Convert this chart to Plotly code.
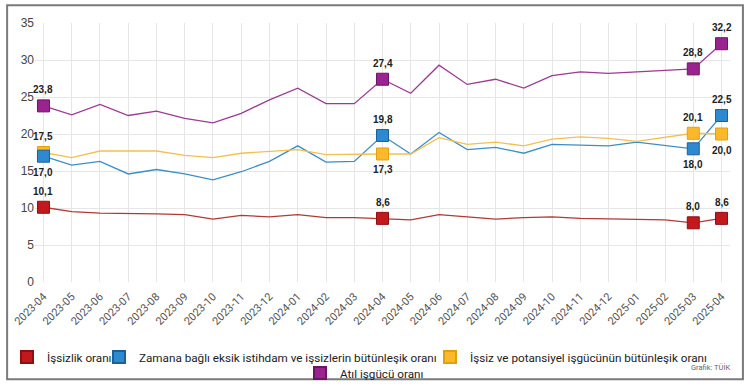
import plotly.graph_objects as go

months = ["2023-04", "2023-05", "2023-06", "2023-07", "2023-08", "2023-09", "2023-10",
          "2023-11", "2023-12", "2024-01", "2024-02", "2024-03", "2024-04", "2024-05",
          "2024-06", "2024-07", "2024-08", "2024-09", "2024-10", "2024-11", "2024-12",
          "2025-01", "2025-02", "2025-03", "2025-04"]

issizlik = [10.1, 9.5, 9.3, 9.3, 9.2, 9.1, 8.5, 9.0, 8.8, 9.1, 8.7, 8.7, 8.6, 8.4,
            9.1, 8.8, 8.5, 8.7, 8.8, 8.6, 8.5, 8.5, 8.4, 8.0, 8.6]
zamana = [17.0, 15.8, 16.3, 14.6, 15.2, 14.6, 13.8, 14.9, 16.3, 18.4, 16.2, 16.3, 19.8, 17.3,
          20.2, 17.9, 18.2, 17.4, 18.6, 18.5, 18.4, 18.9, 18.4, 18.0, 22.5]
potansiyel = [17.5, 16.8, 17.7, 17.7, 17.7, 17.1, 16.8, 17.4, 17.7, 17.9, 17.2, 17.3, 17.3, 17.3,
              19.5, 18.6, 18.9, 18.4, 19.3, 19.6, 19.4, 19.0, 19.5, 20.1, 20.0]
atil = [23.8, 22.6, 24.0, 22.5, 23.1, 22.1, 21.5, 22.8, 24.6, 26.2, 24.1, 24.1, 27.4, 25.5,
        29.3, 26.7, 27.4, 26.2, 27.9, 28.4, 28.2, 28.4, 28.6, 28.8, 32.2]

names = ["İşsizlik oranı",
         "Zamana bağlı eksik istihdam ve işsizlerin bütünleşik oranı",
         "İşsiz ve potansiyel işgücünün bütünleşik oranı",
         "Atıl işgücü oranı"]
highlight = ["2023-04", "2024-04", "2025-03", "2025-04"]
y_ticks = [0, 5, 10, 15, 20, 25, 30, 35]

# styles
series = [issizlik, zamana, potansiyel, atil]
line_colors = ["#B03A36", "#3D8EC6", "#F2C050", "#9C3A94"]
fill_colors = ["#C1191C", "#2E8AD0", "#FBB829", "#9A2390"]
edge_colors = ["#8E0F12", "#1F5F99", "#E0A010", "#6A1763"]
# labels placed below the marker: (series index, month)
below = {(1, "2023-04"), (2, "2024-04"), (1, "2025-03"), (2, "2025-04")}
legend_ids = ["legend", "legend2", "legend3", "legend4"]
legend_left_px = [7, 99, 430, 300]
legend_row_px = [357, 357, 357, 373]
draw_order = [0, 2, 1, 3]

fig = go.Figure()

for i in range(4):
    fig.add_trace(go.Scatter(
        x=months, y=series[i], mode="lines", name=names[i], showlegend=False,
        line=dict(color=line_colors[i], width=1.3), hoverinfo="skip"))

for i in draw_order:
    idx = [months.index(m) for m in highlight]
    fig.add_trace(go.Scatter(
        x=highlight, y=[series[i][k] for k in idx], mode="markers", name=names[i],
        legend=legend_ids[i],
        marker=dict(symbol="square", size=12, color=fill_colors[i],
                    line=dict(color=edge_colors[i], width=1))))

annotations = []
for i in range(4):
    for m in highlight:
        v = series[i][months.index(m)]
        shift = -16 if (i, m) in below else 16
        annotations.append(dict(
            x=m, y=v, xref="x", yref="y", text=f"{v:.1f}".replace(".", ","),
            showarrow=False, yshift=shift,
            font=dict(family="Liberation Sans, Arial", size=10, color="#222222", weight="bold")))

annotations.append(dict(
    xref="paper", yref="paper", x=1.003, y=-0.329, xanchor="right", yanchor="middle",
    text="Grafik: TÜİK", showarrow=False,
    font=dict(family="Roboto", size=7.5, color="#666666")))

legend_common = dict(orientation="h", xref="container", yref="container",
                     xanchor="left", yanchor="middle", itemsizing="constant",
                     bgcolor="rgba(0,0,0,0)",
                     font=dict(family="Roboto", size=11.7, color="#222222"))
legends = {}
for i, lid in enumerate(legend_ids):
    legends[lid] = dict(legend_common, x=legend_left_px[i] / 750, y=1 - legend_row_px[i] / 390)

fig.update_layout(
    width=750, height=390,
    margin=dict(l=32, r=20, t=23, b=108),
    paper_bgcolor="white", plot_bgcolor="white",
    xaxis=dict(type="category", categoryorder="array", categoryarray=months,
               range=[-0.3, 24.3], tickangle=-45, showgrid=True, ticklabelstandoff=5,
               gridcolor="#E6E6E6", gridwidth=1, showline=False, zeroline=False,
               tickfont=dict(family="Roboto", size=11, color="#555555")),
    yaxis=dict(range=[0, 35], tickvals=y_ticks, showgrid=True, gridcolor="#E6E6E6",
               gridwidth=1, zeroline=False, showline=False,
               tickfont=dict(family="Liberation Sans, Arial", size=12, color="#444444")),
    annotations=annotations,
    shapes=[dict(type="rect", xref="paper", yref="paper",
                 x0=-0.0401, x1=1.0186, y0=-0.3757, y1=1.0683,
                 line=dict(color="#7A7A7A", width=2), fillcolor="rgba(0,0,0,0)",
                 layer="below")],
    showlegend=True,
    **legends,
)

fig.write_html("out.html",
               config={"displayModeBar": False},
               post_script="document.body.style.margin='0px';document.body.style.padding='0px';")
